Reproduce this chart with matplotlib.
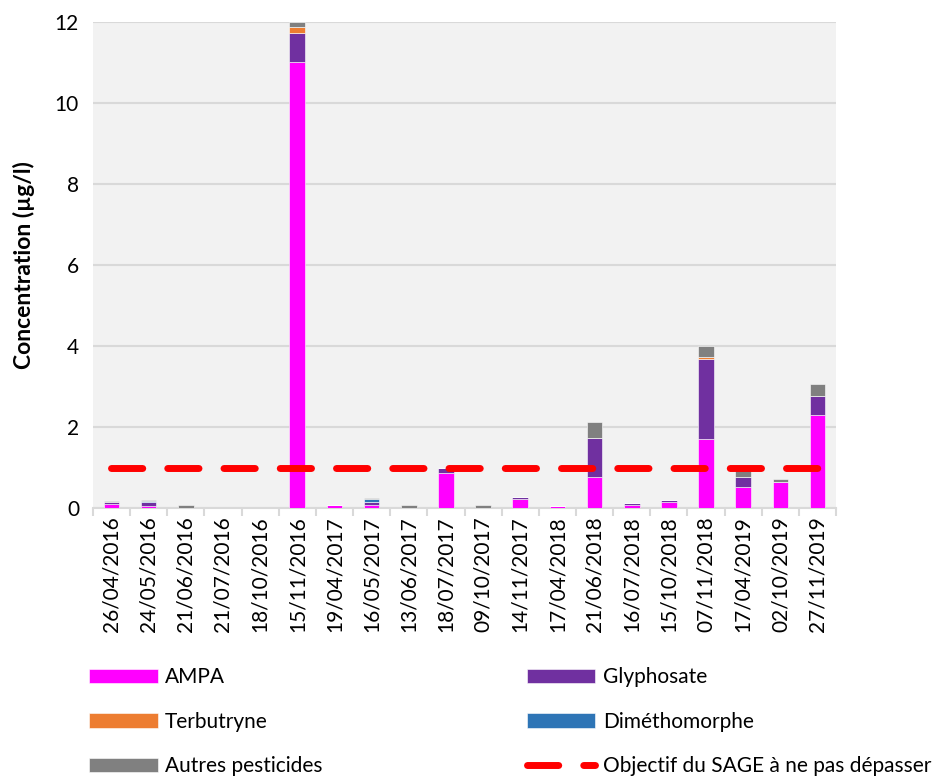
import matplotlib.pyplot as plt
import numpy as np

plt.rcParams['font.family'] = ['Lato', 'DejaVu Sans']

dates = ['26/04/2016', '24/05/2016', '21/06/2016', '21/07/2016', '18/10/2016',
         '15/11/2016', '19/04/2017', '16/05/2017', '13/06/2017', '18/07/2017',
         '09/10/2017', '14/11/2017', '17/04/2018', '21/06/2018', '16/07/2018',
         '15/10/2018', '07/11/2018', '17/04/2019', '02/10/2019', '27/11/2019']

ampa = [0.10, 0.06, 0.0, 0.0, 0.0, 11.0, 0.07, 0.08, 0.0, 0.87,
        0.0, 0.22, 0.04, 0.77, 0.07, 0.16, 1.70, 0.51, 0.65, 2.30]
glyphosate = [0.06, 0.08, 0.0, 0.0, 0.0, 0.72, 0.0, 0.07, 0.0, 0.13,
              0.0, 0.05, 0.0, 0.97, 0.06, 0.05, 1.98, 0.26, 0.0, 0.47]
terbutryne = [0.0, 0.0, 0.0, 0.0, 0.0, 0.15, 0.0, 0.0, 0.0, 0.0,
              0.0, 0.0, 0.0, 0.0, 0.0, 0.0, 0.05, 0.0, 0.0, 0.0]
dimethomorphe = [0.0, 0.04, 0.0, 0.0, 0.0, 0.0, 0.0, 0.07, 0.0, 0.0,
                 0.0, 0.0, 0.0, 0.0, 0.0, 0.0, 0.0, 0.0, 0.0, 0.0]
autres = [0.01, 0.03, 0.08, 0.0, 0.0, 0.13, 0.0, 0.02, 0.08, 0.0,
          0.08, 0.0, 0.0, 0.38, 0.0, 0.0, 0.26, 0.18, 0.07, 0.30]
objectif = 1.0

series = [('AMPA', ampa, '#FF00FF'),
          ('Glyphosate', glyphosate, '#7030A0'),
          ('Terbutryne', terbutryne, '#ED7D31'),
          ('Diméthomorphe', dimethomorphe, '#2E75B6'),
          ('Autres pesticides', autres, '#808080')]

fs = 15

fig = plt.figure(figsize=(9.48, 7.78), dpi=100)
ax = fig.add_axes([0.098, 0.347, 0.784, 0.625])
ax.set_facecolor('#F2F2F2')

x = np.arange(len(dates))
bottom = np.zeros(len(dates))
handles = {}
for name, vals, col in series:
    vals = np.array(vals)
    b = ax.bar(x, vals, 0.42, bottom=bottom, color=col, edgecolor='white',
               linewidth=0.4, zorder=3, label=name)
    handles[name] = b
    bottom += vals

line, = ax.plot(x, [objectif] * len(x), color='#FF0000', lw=5,
                dashes=(4.5, 3.6), dash_capstyle='round', zorder=4,
                label='Objectif du SAGE à ne pas dépasser')

ax.set_xlim(-0.5, len(dates) - 0.5)
ax.set_ylim(0, 12)
ax.set_yticks(np.arange(0, 13, 2))
ax.yaxis.grid(True, color='#D9D9D9', lw=1.5, zorder=0)
ax.tick_params(axis='y', length=0, labelsize=fs, pad=10)
ax.set_xticks(x)
ax.set_xticklabels(dates, rotation=90, fontsize=fs)
ax.tick_params(axis='x', length=0, pad=6)
ax.set_xticks(np.arange(-0.5, len(dates), 1), minor=True)
ax.tick_params(axis='x', which='minor', length=6, color='#D9D9D9', width=1.5)
for s in ['top', 'right', 'left']:
    ax.spines[s].set_visible(False)
ax.spines['bottom'].set_color('#D9D9D9')
ax.spines['bottom'].set_linewidth(1.5)
ax.set_ylabel('Concentration (µg/l)', fontsize=16.5, fontweight='bold', labelpad=14)

order = [handles['AMPA'], handles['Terbutryne'], handles['Autres pesticides'],
         handles['Glyphosate'], handles['Diméthomorphe'], line]
labels = ['AMPA', 'Terbutryne', 'Autres pesticides',
          'Glyphosate', 'Diméthomorphe', 'Objectif du SAGE à ne pas dépasser']
fig.legend(order, labels, ncol=2, loc='lower left', bbox_to_anchor=(0.074, -0.022),
           frameon=False, fontsize=fs, handlelength=3.3, handleheight=0.7,
           labelspacing=1.18, columnspacing=9.8, handletextpad=0.35)

fig.savefig('out.png', dpi=100)
